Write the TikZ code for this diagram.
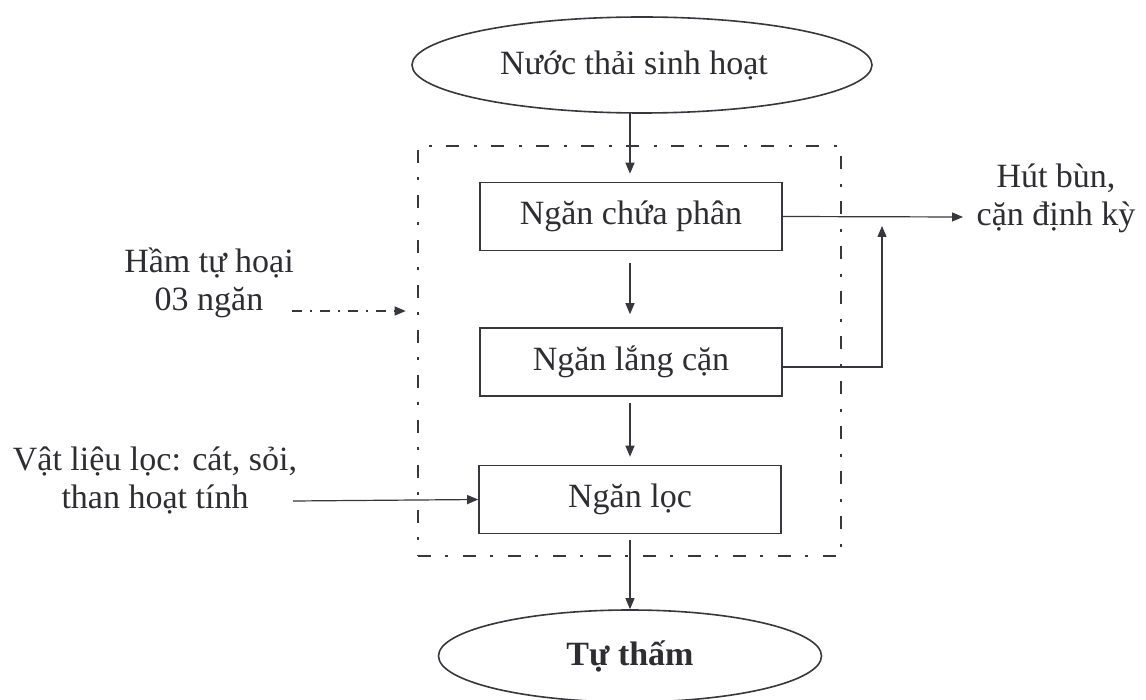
\documentclass[tikz,border=0pt]{standalone}
\usepackage{fontspec}
\setmainfont{Liberation Serif}
\usetikzlibrary{shapes.geometric,arrows.meta}
\definecolor{ink}{RGB}{55,55,62}
\definecolor{txt}{RGB}{45,45,50}
\begin{document}
\begin{tikzpicture}[x=1pt,y=-1pt,
  every node/.style={text=txt,font=\fontsize{34}{38}\selectfont},
  oval/.style={ellipse,draw=ink,line width=1.6pt,inner sep=0pt},
  stepbox/.style={rectangle,draw=ink,line width=1.6pt,minimum width=302pt,minimum height=68pt,inner sep=0pt},
  flow/.style={draw=ink,line width=1.2pt,-{Triangle[length=11pt,width=9pt]}},
  tankline/.style={draw=ink,line width=2.6pt,dash pattern=on 13pt off 14pt on 3pt off 15pt},
  lbl/.style={align=center,inner sep=0pt}]
\useasboundingbox (0,0) rectangle (1146,700);
\fill[white] (0,0) rectangle (1146,700);

% dashed-dotted tank outline
\node[rectangle,tankline,minimum width=423pt,minimum height=410pt,inner sep=0pt] (tank) at (629.5,351) {};

% nodes
\node[oval,minimum width=460pt,minimum height=96pt] (src) at (642,65) {\hspace*{-16pt}Nước thải sinh hoạt};
\node[stepbox] (b1) at (631,216.5) {Ngăn chứa phân};
\node[stepbox] (b2) at (631,362) {Ngăn lắng cặn};
\node[stepbox] (b3) at (630,499.5) {Ngăn lọc};
\node[oval,minimum width=383pt,minimum height=92pt] (out) at (630,656) {\bfseries Tự thấm};

\node[lbl] (ham) at (209,283) {Hầm tự hoại\\03 ngăn};
\node[lbl] (vat) at (155,480) {Vật liệu lọc: cát, sỏi,\\than hoạt tính};
\node[lbl] (hut) at (1056,198) {Hút bùn,\\cặn định kỳ};

% helper coordinates
\coordinate (hamend) at (292,311);
\coordinate (vatend) at (293,501);
\coordinate (hutin) at (963,217);
\coordinate (r1) at (882,367);
\coordinate (r2) at (882,226);

% main flow
\draw[flow,shorten >=8pt] (630,113) -- (b1.north -| 630,0);
\draw[flow,shorten <=12pt,shorten >=13pt] (b1.south -| 630,0) -- (b2.north -| 630,0);
\draw[flow,shorten <=6pt,shorten >=8pt] (b2.south -| 630,0) -- (b3.north -| 630,0);
\draw[flow,shorten <=6pt] (b3.south) -- (out.north);

% side flows
\draw[flow] (b1.east) -- (hutin);
\draw[flow] (b2.east |- r1) -- (r1) -- (r2);
\draw[flow] (vatend) -- (b3.west);
\draw[flow,dash pattern=on 10pt off 8pt on 2pt off 8pt,shorten >=11pt] (hamend) -- (tank.west |- hamend);
\end{tikzpicture}
\end{document}
